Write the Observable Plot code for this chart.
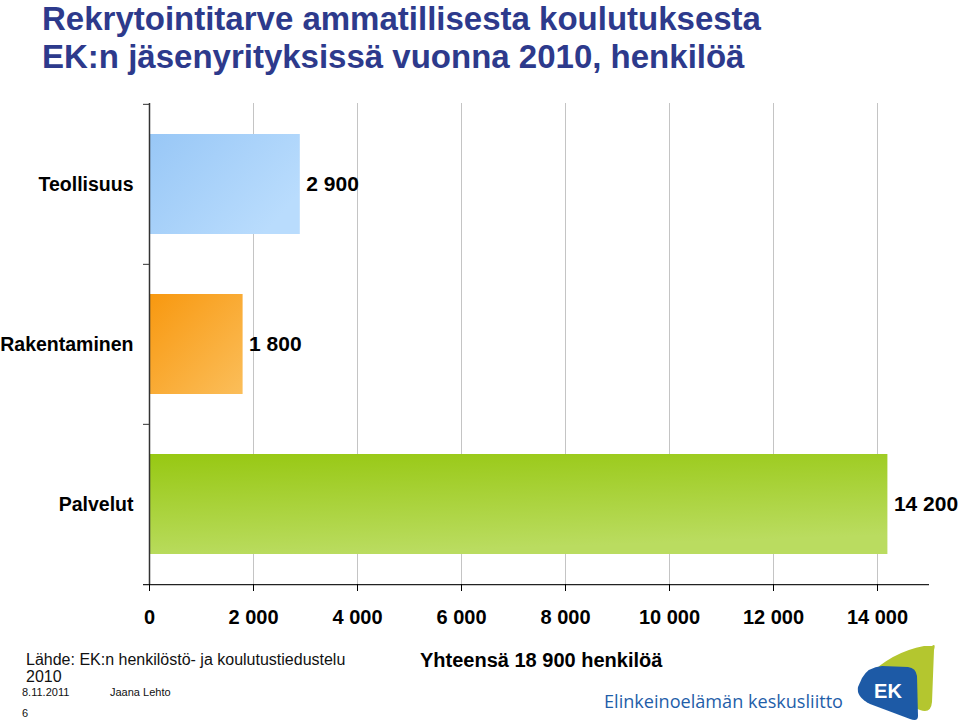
<!DOCTYPE html>
<html>
<head>
<meta charset="utf-8">
<script src="https://cdn.jsdelivr.net/npm/d3@7"></script>
<script src="https://cdn.jsdelivr.net/npm/@observablehq/plot@0.6"></script>
<style>
  html, body { margin: 0; padding: 0; background: #fff; }
  body { width: 960px; height: 726px; position: relative; overflow: hidden; font-family: "Liberation Sans", Arial, sans-serif; }
  .abs { position: absolute; white-space: nowrap; }
  #title { left: 42px; top: 0px; font-size: 33px; line-height: 38px; font-weight: bold; color: #2d3a8c; }
  #chart { left: 0; top: 90px; }
  #source { left: 26px; top: 651px; font-size: 16px; line-height: 17px; color: #111; }
  #date { left: 22px; top: 686px; font-size: 11px; line-height: 13px; color: #111; }
  #author { left: 110px; top: 686px; font-size: 11px; line-height: 13px; color: #111; }
  #page { left: 22px; top: 707px; font-size: 11px; line-height: 13px; color: #111; }
  #total { left: 420px; top: 648px; font-size: 20px; line-height: 24px; font-weight: bold; color: #000; }
  #logo { left: 590px; top: 638px; }
</style>
</head>
<body>
<div id="title" class="abs">Rekrytointitarve ammatillisesta koulutuksesta<br>EK:n jäsenyrityksissä vuonna 2010, henkilöä</div>
<div id="chart" class="abs"></div>
<div id="source" class="abs">Lähde: EK:n henkilöstö- ja koulutustiedustelu<br>2010</div>
<div id="date" class="abs">8.11.2011</div>
<div id="author" class="abs">Jaana Lehto</div>
<div id="page" class="abs">6</div>
<div id="total" class="abs">Yhteensä 18 900 henkilöä</div>
<svg id="logo" class="abs" width="360" height="88" viewBox="0 0 360 88">
  <text x="14" y="70" font-family="'Open Sans', sans-serif" font-size="18.5" fill="#1f5ea9" textLength="239" lengthAdjust="spacingAndGlyphs">Elinkeinoelämän keskusliitto</text>
  <g transform="translate(262,2)">
    <path d="M 80 6 Q 84 3 82 10 L 80 62 Q 79 74 68 70 L 18 50 Q 8 44 16 36 Q 40 12 72 6 Z" fill="#b4c62f"/>
    <path d="M 10 38 Q 16 27 30 26 L 56 27 Q 64 28 65 36 L 66 76 Q 66 82 58 79 L 18 64 Q 4 57 6 47 Z" fill="#1d5aa6"/>
    <text x="36" y="58" text-anchor="middle" font-family="'Liberation Sans', Arial, sans-serif" font-weight="bold" font-size="20" fill="#fff">EK</text>
  </g>
</svg>
<script>
// ---- data ----
const categories = ["Teollisuus", "Rakentaminen", "Palvelut"];
const values = [2900, 1800, 14200];
const xTicks = [0, 2000, 4000, 6000, 8000, 10000, 12000, 14000];

// ---- styling ----
const barFill = {
  "Teollisuus": "url(#g-teo)",
  "Rakentaminen": "url(#g-rak)",
  "Palvelut": "url(#g-pal)"
};

const data = categories.map((c, i) => ({category: c, value: values[i]}));
const fmt = d => d3.format(",")(d).replace(/,/g, " ");

const width = 960, height = 545;
const marginLeft = 149, marginRight = 31, marginTop = 13, marginBottom = 51;
const step = (height - marginTop - marginBottom) / categories.length;
const tickLen = 6 * 15000 / (width - marginLeft - marginRight);

const chart = Plot.plot({
  width, height, marginLeft, marginRight, marginTop, marginBottom,
  style: {fontFamily: "'Liberation Sans', Arial, sans-serif", color: "#000", background: "transparent", overflow: "visible"},
  x: {domain: [0, 15000]},
  y: {domain: categories, paddingInner: 0.375, paddingOuter: 0.1875},
  color: {type: "identity"},
  marks: [
    Plot.gridX(xTicks.filter(d => d > 0), {stroke: "#c4c4c4", strokeOpacity: 1}),
    Plot.barX(data, {x: "value", y: "category", fill: d => barFill[d.category]}),
    Plot.text(data, {x: "value", y: "category", text: d => fmt(d.value), textAnchor: "start", dx: 6, fontSize: 21, fontWeight: "bold", fill: "#000"}),
    Plot.ruleX([0], {stroke: "#333", strokeWidth: 1.5}),
    Plot.ruleY(categories, {y: d => d, x1: -tickLen, x2: 0, dy: -step / 2, stroke: "#333"}),
    Plot.ruleY(categories.slice(-1), {y: d => d, x1: -tickLen, x2: 15000, dy: step / 2, stroke: "#222", strokeWidth: 1.2}),
    Plot.axisX({ticks: xTicks, tickFormat: fmt, tickSize: 7, tickPadding: 18, fontSize: 20, fontWeight: "bold", label: null}),
    Plot.axisY({tickSize: 0, tickPadding: 16, fontSize: 19.5, fontWeight: "bold", label: null})
  ]
});

chart.insertAdjacentHTML("afterbegin", `
<defs>
  <linearGradient id="g-teo" x1="0" y1="0" x2="1" y2="0.6">
    <stop offset="0" stop-color="#98c7f6"/>
    <stop offset="1" stop-color="#b9dcfd"/>
  </linearGradient>
  <linearGradient id="g-rak" x1="0" y1="0" x2="1" y2="1">
    <stop offset="0" stop-color="#f8980f"/>
    <stop offset="1" stop-color="#fbbe5a"/>
  </linearGradient>
  <linearGradient id="g-pal" x1="0" y1="0" x2="0.25" y2="1">
    <stop offset="0" stop-color="#97c812"/>
    <stop offset="1" stop-color="#badc60"/>
  </linearGradient>
</defs>`);

document.getElementById("chart").appendChild(chart);
</script>
</body>
</html>
